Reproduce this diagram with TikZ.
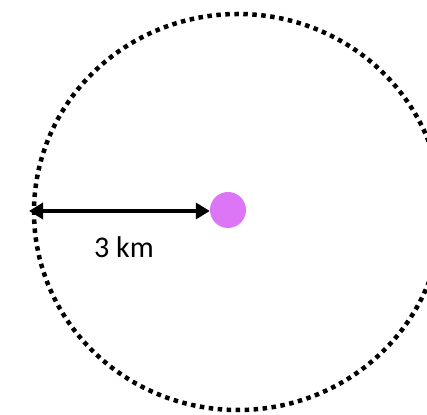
\documentclass[tikz,border=0pt]{standalone}
\usepackage{fontspec}
\setmainfont{Carlito}
\usetikzlibrary{arrows.meta}
\definecolor{dotpink}{RGB}{220,118,246}
\tikzset{
  dotring/.style={draw=black, line width=4.5pt, dash pattern=on 4.5pt off 4.5pt},
  radarrow/.style={line width=4.5pt, {Triangle[length=14pt,width=16pt]}-{Triangle[length=14pt,width=16pt]}},
  spot/.style={circle, fill=dotpink, minimum size=36pt, inner sep=0pt},
  lbl/.style={font=\fontsize{30}{34}\selectfont, inner sep=0pt}
}
\begin{document}
\begin{tikzpicture}[x=1pt,y=1pt]
\useasboundingbox (0,0) rectangle (427,414);
\begin{scope}
\clip (0,0) rectangle (427,414);
\draw[dotring] (238,202) ellipse [x radius=204, y radius=198];
\end{scope}
\node[spot] (c) at (228,204) {};
\coordinate (e) at (29,203);
\draw[radarrow] (e) -- (e -| c.west);
\node[lbl] (t) at (124,167) {3 km};
\end{tikzpicture}
\end{document}
